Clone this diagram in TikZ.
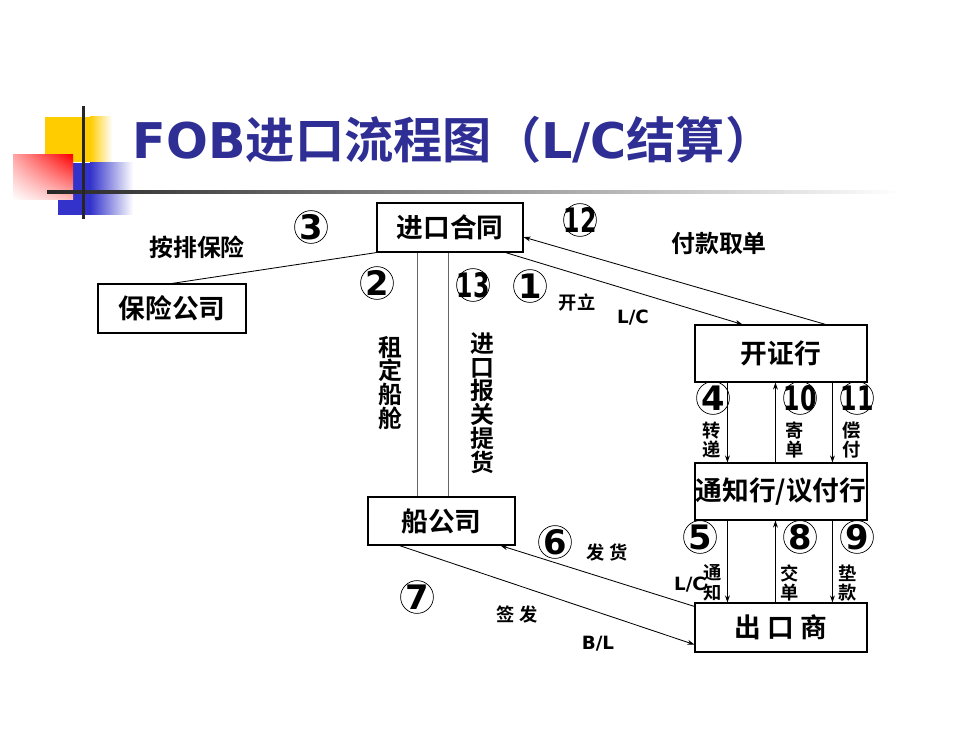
\documentclass[tikz,border=0pt]{standalone}
\usepackage{fontspec}
\setmainfont{DejaVu Sans}
\newfontfamily\cjk{Noto Sans CJK SC}[BoldFont={Noto Sans CJK SC Bold}]
\usetikzlibrary{arrows.meta,shadings}
\definecolor{titleblue}{RGB}{46,46,148}
\definecolor{deckyellow}{RGB}{255,204,0}
\definecolor{deckblue}{RGB}{51,51,204}

\begin{document}
\begin{tikzpicture}[x=0.025cm, y=-0.025cm,
    box/.style={draw, line width=0.8pt, inner sep=0pt, font=\cjk\bfseries\fontsize{19}{19}\selectfont},
    num/.style={circle, draw, line width=0.5pt, inner sep=-3pt, minimum size=0.82cm, font=\bfseries\fontsize{24}{24}\selectfont},
    lab/.style={font=\cjk\bfseries\fontsize{17}{17}\selectfont, align=center},
    small/.style={font=\cjk\bfseries\fontsize{13}{14}\selectfont, align=center},
    latin/.style={font=\bfseries\fontsize{13}{13}\selectfont},
    link/.style={line width=0.6pt},
    arr/.style={link, -{Stealth[length=5pt, width=3.5pt]}}]
    \useasboundingbox (0,0) rectangle (980,735);

    % title decoration
    \fill[deckyellow] (45,117) rectangle (90,162);
    \shade[left color=deckyellow, right color=white] (90,117) rectangle (112,162);
    \fill[deckblue] (58,163) rectangle (90,215);
    \shade[left color=deckblue, right color=white] (90,163) rectangle (133,215);
    \shade[upper right=red, upper left=red!35, lower right=red!25, lower left=white] (13,155) rectangle (73,200);
    \shade[left color=black!85, right color=white] (47,190.5) rectangle (900,193.5);
    \fill[black!85] (81.5,106) rectangle (84.5,219);

    \node[anchor=west, text=titleblue, font=\bfseries\fontsize{35}{35}\selectfont] (title) at (128,140) {FOB{\cjk 进口流程图（}L/C{\cjk 结算）}};

    % boxes
    \node[box, minimum width=3.65cm, minimum height=1.225cm] (contract) at (450,227.5) {进口合同};
    \node[box, minimum width=3.7cm, minimum height=1.225cm] (insurer) at (172,308.5) {保险公司};
    \node[box, minimum width=3.675cm, minimum height=1.2cm] (carrier) at (441.5,521) {船公司};
    \node[box, minimum width=4.3cm, minimum height=1.425cm] (issuer) at (781,353.5) {开证行};
    \node[box, minimum width=4.3cm, minimum height=1.425cm] (adviser) at (781,491.5) {通知行/议付行};
    \node[box, minimum width=4.3cm, minimum height=1.225cm] (exporter) at (781,627.5) {出 口 商};

    % circled steps
    \node[num] (n1) at (530,286) {1};
    \node[num] (n2) at (377,283) {2};
    \node[num] (n3) at (311,227) {3};
    \node[num] (n4) at (713,398) {4};
    \node[num] (n5) at (700,537) {5};
    \node[num] (n6) at (555,542) {6};
    \node[num] (n7) at (417,597) {7};
    \node[num] (n8) at (800,537) {8};
    \node[num] (n9) at (857,537) {9};
    \node[num] (n10) at (800,398) {\scalebox{0.7}[1]{10}};
    \node[num] (n11) at (857,398) {\scalebox{0.7}[1]{11}};
    \node[num] (n12) at (580,220) {\scalebox{0.7}[1]{12}};
    \node[num] (n13) at (473,285) {\scalebox{0.7}[1]{13}};

    % labels
    \node[lab] (insure) at (197,247) {按排保险};
    \node[lab] (payment) at (719,243) {付款取单};
    \node[lab] (charter) at (390,383) {租\\定\\船\\舱};
    \node[lab] (pickup) at (482,403) {进\\口\\报\\关\\提\\货};
    \node[small] (open) at (577,302) {开立};
    \node[latin] (lc1) at (633,318) {L/C};
    \node[small] (pass) at (712,440) {转\\递};
    \node[small] (send) at (795,440) {寄\\单};
    \node[small] (repay) at (852,440) {偿\\付};
    \node[latin] (lc2) at (690,585) {L/C};
    \node[small] (notify) at (713,583) {通\\知};
    \node[small] (present) at (790,583) {交\\单};
    \node[small] (advance) at (848,583) {垫\\款};
    \node[small] (ship) at (607,552) {发 货};
    \node[small] (sign) at (517,614) {签 发};
    \node[latin] (bl) at (598,644) {B/L};

    % connectors
    \draw[link] (contract.south west) -- (insurer.north);
    \coordinate (c2) at ([xshift=1.25cm]carrier.north west);
    \coordinate (c13) at ([xshift=2.025cm]carrier.north west);
    \draw[link, black!60, line width=0.9pt] (c2) -- (c2 |- contract.south);
    \draw[link, black!60, line width=0.9pt] (c13) -- (c13 |- contract.south);
    \draw[arr] ([xshift=-0.45cm]contract.south east) -- ([xshift=1.2cm]issuer.north west);
    \draw[arr] ([xshift=-1.05cm]issuer.north east) -- ([yshift=-0.24cm]contract.east);
    \coordinate (c4) at ([xshift=0.825cm]issuer.south west);
    \coordinate (c10) at ([xshift=2.025cm]issuer.south west);
    \coordinate (c11) at ([xshift=3.45cm]issuer.south west);
    \draw[arr] (c4) -- (c4 |- adviser.north);
    \draw[arr] (c10 |- adviser.north) -- (c10);
    \draw[arr] (c11) -- (c11 |- adviser.north);
    \coordinate (c5) at ([xshift=0.825cm]adviser.south west);
    \coordinate (c8) at ([xshift=2.025cm]adviser.south west);
    \coordinate (c9) at ([xshift=3.45cm]adviser.south west);
    \draw[arr] (c5) -- (c5 |- exporter.north);
    \draw[arr] (c8 |- exporter.north) -- (c8);
    \draw[arr] (c9) -- (c9 |- exporter.north);
    \draw[arr] ([yshift=-0.1cm]exporter.north west) -- ([xshift=-0.375cm]carrier.south east);
    \draw[arr] ([xshift=0.8cm]carrier.south west) -- ([yshift=0.2cm]exporter.south west);

\end{tikzpicture}
\end{document}
